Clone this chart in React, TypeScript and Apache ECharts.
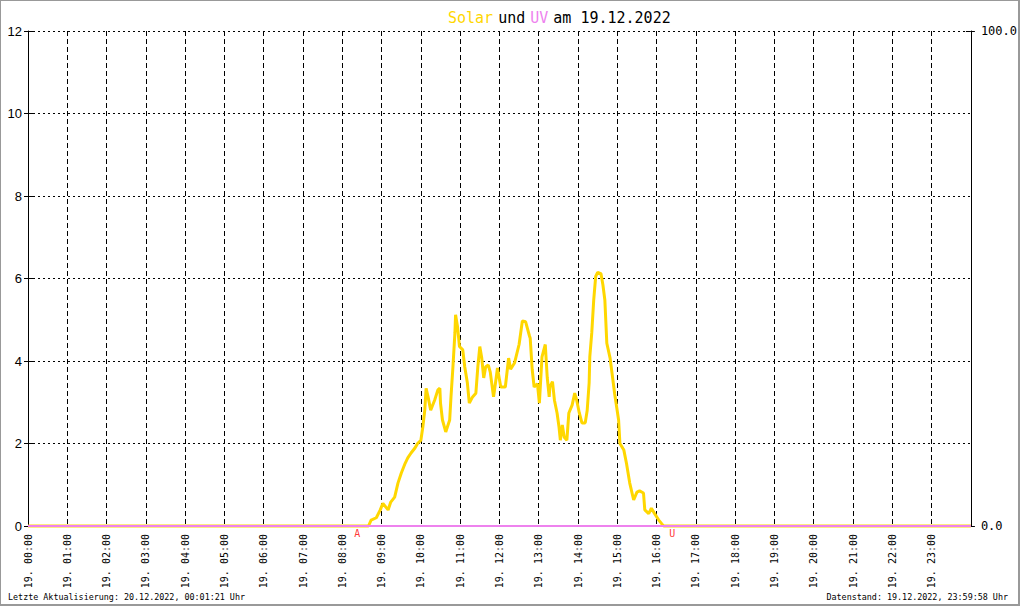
import React, { useEffect, useRef } from "react";
import * as echarts from "echarts";

const solarTimes = [
  "00:00", "08:40", "08:44", "08:52", "08:58", "09:02", "09:10", "09:14", "09:20", "09:25",
  "09:30", "09:36", "09:40", "09:45", "09:51", "09:55", "10:00", "10:03", "10:06", "10:08",
  "10:11", "10:15", "10:21", "10:26", "10:29", "10:30", "10:33", "10:38", "10:44", "10:46",
  "10:49", "10:52", "10:53", "10:56", "10:59", "11:04", "11:07", "11:11", "11:14", "11:19",
  "11:24", "11:27", "11:30", "11:33", "11:36", "11:39", "11:43", "11:46", "11:51", "11:54",
  "11:57", "12:02", "12:09", "12:14", "12:17", "12:23", "12:26", "12:30", "12:35", "12:40",
  "12:46", "12:47", "12:50", "12:53", "12:58", "13:01", "13:05", "13:10", "13:13", "13:16",
  "13:17", "13:21", "13:24", "13:28", "13:31", "13:33", "13:36", "13:39", "13:43", "13:46",
  "13:51", "13:55", "13:58", "14:02", "14:06", "14:11", "14:14", "14:17", "14:18", "14:21",
  "14:24", "14:27", "14:30", "14:35", "14:38", "14:41", "14:44", "14:49", "14:52", "14:56",
  "15:02", "15:04", "15:10", "15:14", "15:19", "15:25", "15:30", "15:34", "15:40", "15:42",
  "15:48", "15:52", "15:57", "16:03", "16:08", "16:11", "24:00",
];
const solarValues = [
  0, 0, 0.14, 0.2, 0.39, 0.55, 0.39, 0.58, 0.7, 1.04,
  1.28, 1.52, 1.65, 1.77, 1.89, 2.0, 2.08, 2.4, 2.81, 3.34,
  3.13, 2.81, 3.05, 3.3, 3.34, 2.98, 2.57, 2.28, 2.57, 3.13,
  3.86, 4.68, 5.12, 4.83, 4.35, 4.27, 3.86, 3.47, 2.98, 3.13,
  3.22, 3.86, 4.35, 4.07, 3.59, 3.86, 3.9, 3.73, 3.13, 3.47,
  3.83, 3.37, 3.37, 4.07, 3.8, 3.95, 4.14, 4.4, 4.97, 4.95,
  4.6, 4.55, 3.8, 3.37, 3.45, 2.98, 4.1, 4.4, 3.6, 3.13,
  3.37, 3.5, 3.05, 2.74, 2.4, 2.08, 2.45, 2.15, 2.08, 2.74,
  2.93, 3.22, 3.05, 2.74, 2.5, 2.5, 2.8, 3.47, 4.1, 4.68,
  5.48, 6.05, 6.15, 6.12, 5.85, 5.48, 4.43, 4.07, 3.7, 3.2,
  2.57, 2.0, 1.84, 1.52, 1.04, 0.63, 0.82, 0.85, 0.8, 0.39,
  0.3, 0.43, 0.3, 0.15, 0.05, 0, 0,
];

const uvTimes = ["00:00", "24:00"];
const uvValues = [0, 0];

const sunEventTimes = ["08:23", "16:24"];
const sunEventLabels = ["A", "U"];

const leftTicks = [0, 2, 4, 6, 8, 10, 12];
const rightTicks = [0, 100];
const hourLabels = Array.from({ length: 24 }, (_, h) => `19. ${String(h).padStart(2, "0")}:00`);

const titleDate = "19.12.2022";
const footerLeft = "Letzte Aktualisierung: 20.12.2022, 00:01:21 Uhr";
const footerRight = "Datenstand: 19.12.2022, 23:59:58 Uhr";

const toMin = (t: string) => {
  const [h, m] = t.split(":").map(Number);
  return h * 60 + m;
};

const MONO = "'DejaVu Sans Mono', monospace";

export default function App() {
  const ref = useRef<HTMLDivElement>(null);
  useEffect(() => {
    document.body.style.margin = "0";
    if (!ref.current) return;
    const chart = echarts.init(ref.current, null, { renderer: "svg" });
    const solarData = solarTimes.map((t, i) => [toMin(t), solarValues[i]]);
    const uvData = uvTimes.map((t, i) => [toMin(t), uvValues[i]]);
    const sunData = sunEventTimes.map((t, i) => ({ value: [toMin(t), 0], name: sunEventLabels[i] }));
    const yBase = {
      type: "value" as const,
      min: leftTicks[0],
      max: leftTicks[leftTicks.length - 1],
      interval: leftTicks[1] - leftTicks[0],
    };
    const yRight = {
      type: "value" as const,
      min: rightTicks[0],
      max: rightTicks[rightTicks.length - 1],
      interval: rightTicks[1] - rightTicks[0],
    };
    chart.setOption({
      animation: false,
      backgroundColor: "#fff",
      title: {
        text: `{y|Solar} {k|und} {v|UV} {k|am ${titleDate}}`,
        left: 443,
        top: 4,
        textStyle: {
          fontWeight: "normal",
          rich: {
            y: { color: "#ffd700", fontFamily: MONO, fontSize: 15, fontWeight: "normal" },
            v: { color: "#ee82ee", fontFamily: MONO, fontSize: 15, fontWeight: "normal" },
            k: { color: "#000", fontFamily: MONO, fontSize: 15, fontWeight: "normal" },
          },
        },
      },
      grid: { left: 28, right: 44, top: 31, bottom: 80 },
      xAxis: {
        type: "value",
        min: 0,
        max: 1440,
        interval: 60,
        axisLine: { show: false },
        axisTick: { show: false },
        axisLabel: {
          rotate: 90,
          margin: 8,
          fontFamily: MONO,
          fontSize: 10,
          color: "#000",
          formatter: (v: number) => (v < 1440 ? hourLabels[v / 60] : ""),
        },
        splitLine: { show: true, lineStyle: { color: "#000", type: [5, 3], width: 1 } },
      },
      yAxis: [
        {
          ...yBase,
          position: "left",
          axisLine: { show: true, lineStyle: { color: "#000", width: 1 } },
          axisTick: { show: true, length: 4, lineStyle: { color: "#000" } },
          axisLabel: { margin: 6, fontFamily: "'Liberation Sans', Arial, sans-serif", fontSize: 13, color: "#000" },
          splitLine: { show: true, lineStyle: { color: "#000", type: [2, 3], width: 1 } },
        },
        {
          ...yRight,
          position: "right",
          axisLine: { show: true, lineStyle: { color: "#000", width: 1 } },
          axisTick: { show: true, length: 4, lineStyle: { color: "#000" } },
          axisLabel: {
            margin: 10,
            fontFamily: MONO,
            fontSize: 12,
            color: "#000",
            formatter: (v: number) => v.toFixed(1),
          },
          splitLine: { show: false },
        },
        {
          ...yBase,
          position: "left",
          axisLine: { show: false },
          axisTick: { show: true, inside: true, length: 5, lineStyle: { color: "#000" } },
          axisLabel: { show: false },
          splitLine: { show: false },
        },
        {
          ...yRight,
          position: "right",
          axisLine: { show: false },
          axisTick: { show: true, inside: true, length: 5, lineStyle: { color: "#000" } },
          axisLabel: { show: false },
          splitLine: { show: false },
        },
      ],
      series: [
        {
          type: "line",
          name: "Solar",
          data: solarData,
          yAxisIndex: 0,
          symbol: "none",
          clip: false,
          lineStyle: { color: "#ffd700", width: 3 },
          z: 3,
        },
        {
          type: "line",
          name: "UV",
          data: uvData,
          yAxisIndex: 1,
          symbol: "none",
          lineStyle: { color: "#ee82ee", width: 2 },
          z: 4,
        },
        {
          type: "scatter",
          data: sunData,
          yAxisIndex: 0,
          symbolSize: 0,
          z: 5,
          label: {
            show: true,
            position: "bottom",
            distance: 2,
            formatter: (p: any) => p.name,
            color: "#ff0000",
            fontFamily: MONO,
            fontSize: 10,
          },
        },
      ],
      graphic: [
        {
          type: "text",
          left: 8,
          top: 593,
          style: { text: footerLeft, fontFamily: MONO, fontSize: 8.4, fill: "#000" },
        },
        {
          type: "text",
          right: 12,
          top: 593,
          style: { text: footerRight, fontFamily: MONO, fontSize: 8.4, fill: "#000" },
        },
        { type: "rect", z: 100, shape: { x: 1017, y: 0, width: 3, height: 606 }, style: { fill: "#fff" } },
        { type: "rect", z: 101, shape: { x: 1018, y: 0, width: 2, height: 606 }, style: { fill: "#999" } },
        { type: "rect", z: 101, shape: { x: 0, y: 604, width: 1020, height: 2 }, style: { fill: "#999" } },
        { type: "rect", z: 101, shape: { x: 0, y: 0, width: 1, height: 606 }, style: { fill: "#999" } },
        { type: "rect", z: 101, shape: { x: 0, y: 0, width: 1020, height: 1 }, style: { fill: "#999" } },
      ],
    });
    return () => chart.dispose();
  }, []);
  return <div ref={ref} style={{ width: 1020, height: 606 }} />;
}
